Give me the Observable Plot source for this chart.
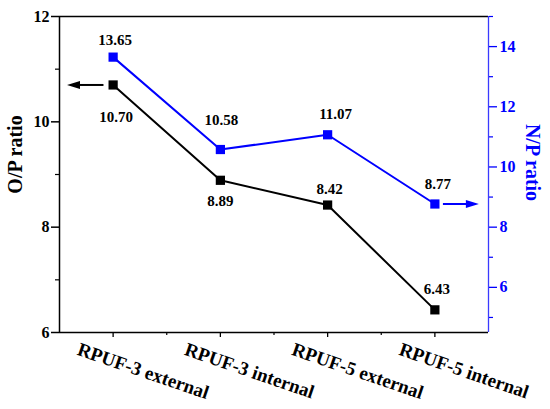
<!DOCTYPE html>
<html>
<head>
<meta charset="utf-8">
<script src="https://cdn.jsdelivr.net/npm/d3@7"></script>
<script src="https://cdn.jsdelivr.net/npm/@observablehq/plot@0.6"></script>
<style>
  html, body { margin: 0; padding: 0; background: #fff; }
  #chart svg { display: block; }
  #chart svg text { font-family: "Liberation Serif", "Times New Roman", serif !important; font-weight: bold; }
</style>
</head>
<body>
<div id="chart"></div>
<script>
// ---- data ----
const categories = ["RPUF-3 external", "RPUF-3 internal", "RPUF-5 external", "RPUF-5 internal"];
const opRatio = [10.70, 8.89, 8.42, 6.43];
const npRatio = [13.65, 10.58, 11.07, 8.77];
const opLabels = ["10.70", "8.89", "8.42", "6.43"];
const npLabels = ["13.65", "10.58", "11.07", "8.77"];
const leftTicks = [6, 8, 10, 12];
const leftMinorTicks = [7, 9, 11];
const rightTicks = [6, 8, 10, 12, 14];
const rightMinorTicks = [5, 7, 9, 11, 13, 15];
const leftDomain = [6, 12];
const rightDomain = [4.5, 15];

// map the right (N/P) scale onto the left (O/P) scale
const toLeft = v => leftDomain[0] + (v - rightDomain[0]) * (leftDomain[1] - leftDomain[0]) / (rightDomain[1] - rightDomain[0]);
const fromLeft = v => rightDomain[0] + (v - leftDomain[0]) * (rightDomain[1] - rightDomain[0]) / (leftDomain[1] - leftDomain[0]);

const opRows = categories.map((c, i) => ({i: i + 1, v: opRatio[i], label: opLabels[i]}));
const npRows = categories.map((c, i) => ({i: i + 1, v: toLeft(npRatio[i]), label: npLabels[i]}));

// label placement (screen offsets)
const opDx = [3, 0, 2, 2], opDy = [32, 21, -16, -21];
const npDx = [2, 1, 8, 3], npDy = [-17, -29, -21, -20];

const BLUE = "#0000ff";
const FONT = "'Liberation Serif', 'Times New Roman', serif";
const headRight = {draw(ctx) { ctx.moveTo(0, 0); ctx.lineTo(-13, -4); ctx.lineTo(-13, 4); ctx.closePath(); }};

const chart = Plot.plot({
  width: 550,
  height: 409,
  marginLeft: 59,
  marginRight: 62,
  marginTop: 16,
  marginBottom: 77,
  x: {domain: [0.5, 4.5], axis: null},
  y: {domain: leftDomain, axis: null},
  style: {fontFamily: FONT, fontWeight: "bold", background: "#fff", color: "#000"},
  marks: [
    // frame
    Plot.ruleY([leftDomain[1]], {stroke: "#000", strokeWidth: 1.3}),
    Plot.ruleY([leftDomain[0]], {stroke: "#000", strokeWidth: 1.5}),
    Plot.ruleX([0.5], {stroke: "#000", strokeWidth: 1.5}),
    Plot.ruleX([4.5], {stroke: "#3a3aff", strokeWidth: 1.3}),
    // left axis
    Plot.axisY(leftTicks, {anchor: "left", tickSize: 8, tickPadding: 2, fontSize: 16, fontFamily: FONT, fontWeight: "bold", color: "#000", strokeWidth: 1.5, tickFormat: d3.format("d"), label: null}),
    Plot.axisY(leftMinorTicks, {anchor: "left", tickSize: 4, tickFormat: () => "", color: "#000", strokeWidth: 1.2, label: null}),
    // right axis
    Plot.axisY(rightTicks.map(toLeft), {anchor: "right", tickSize: 8, tickPadding: 3, fontSize: 16, fontFamily: FONT, fontWeight: "bold", color: BLUE, strokeWidth: 1.3, tickFormat: d => String(Math.round(fromLeft(d))), label: null}),
    Plot.axisY(rightMinorTicks.map(toLeft), {anchor: "right", tickSize: 4, tickFormat: () => "", color: BLUE, strokeWidth: 1.2, label: null}),
    // bottom axis ticks
    Plot.axisX([1, 2, 3, 4], {anchor: "bottom", tickSize: 5, tickFormat: () => "", color: "#000", strokeWidth: 1.3, label: null}),
    Plot.axisX([1.5, 2.5, 3.5], {anchor: "bottom", tickSize: 3, tickFormat: () => "", color: "#000", strokeWidth: 1.2, label: null}),
    // category labels
    Plot.text(categories, {x: (d, i) => i + 1, frameAnchor: "bottom", text: d => d, rotate: 19, textAnchor: "start", lineAnchor: "bottom", dx: -37, dy: 22, fontSize: 19, fontFamily: FONT, fontWeight: "bold", fill: "#000"}),
    // axis titles
    Plot.text(["O/P ratio"], {frameAnchor: "left", textAnchor: "middle", dx: -44, dy: -20, rotate: -90, fontSize: 20, fontFamily: FONT, fontWeight: "bold", fill: "#000"}),
    Plot.text(["N/P ratio"], {frameAnchor: "right", textAnchor: "middle", dx: 44, dy: -12, rotate: 90, fontSize: 20, fontFamily: FONT, fontWeight: "bold", fill: BLUE}),
    // series
    Plot.line(opRows, {x: "i", y: "v", stroke: "#000", strokeWidth: 2}),
    Plot.line(npRows, {x: "i", y: "v", stroke: BLUE, strokeWidth: 2}),
    Plot.dot(opRows, {x: "i", y: "v", symbol: "square", r: 5.2, fill: "#000", stroke: "none"}),
    Plot.dot(npRows, {x: "i", y: "v", symbol: "square", r: 5.2, fill: BLUE, stroke: "none"}),
    // value labels
    ...npRows.map((d, i) => Plot.text([d], {x: "i", y: "v", text: "label", dx: npDx[i], dy: npDy[i], fontSize: 15, fontFamily: FONT, fontWeight: "bold", fill: "#000"})),
    ...opRows.map((d, i) => Plot.text([d], {x: "i", y: "v", text: "label", dx: opDx[i], dy: opDy[i], fontSize: 15, fontFamily: FONT, fontWeight: "bold", fill: "#000"})),
    // arrows pointing to the axes
    Plot.link([opRows[0]], {x1: d => d.i - 0.09, x2: d => d.i - 0.31, y1: "v", y2: "v", stroke: "#000", strokeWidth: 2}),
    Plot.dot([opRows[0]], {x: d => d.i - 0.43, y: "v", symbol: headRight, rotate: 180, fill: "#000", stroke: "none"}),
    Plot.link([npRows[3]], {x1: d => d.i + 0.075, x2: d => d.i + 0.30, y1: "v", y2: "v", stroke: BLUE, strokeWidth: 2}),
    Plot.dot([npRows[3]], {x: d => d.i + 0.41, y: "v", symbol: headRight, fill: BLUE, stroke: "none"})
  ]
});
document.getElementById("chart").appendChild(chart);
</script>
</body>
</html>
